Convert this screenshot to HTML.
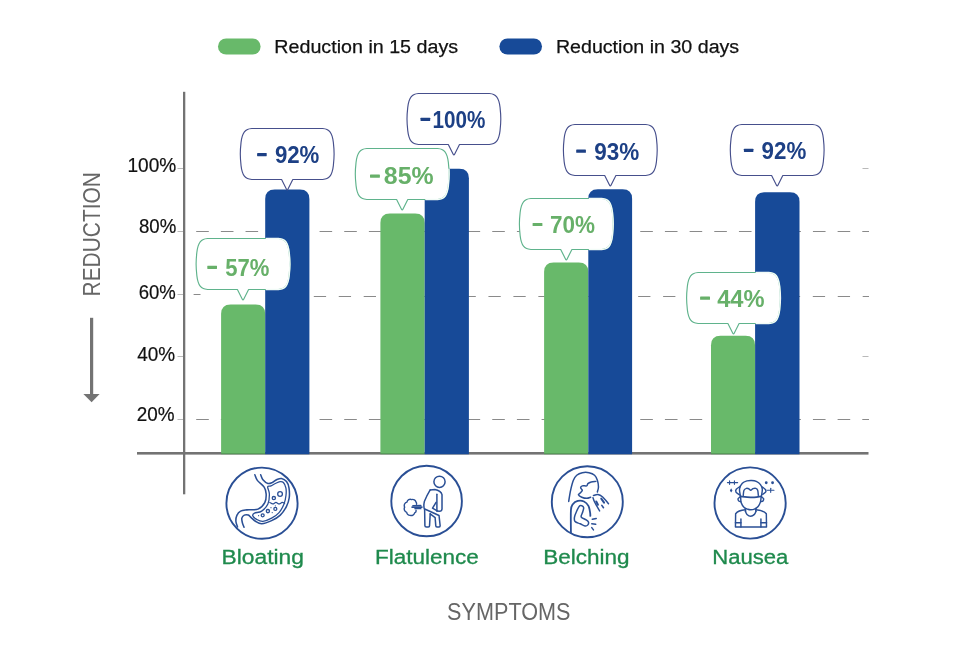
<!DOCTYPE html>
<html><head><meta charset="utf-8"><title>Symptom reduction chart</title>
<style>html,body{margin:0;padding:0;background:#fff}svg{display:block;will-change:transform}text{font-family:"Liberation Sans",sans-serif}</style>
</head><body>
<svg width="958" height="645" viewBox="0 0 958 645">
<rect width="958" height="645" fill="#ffffff"/>
<rect x="218" y="38.4" width="42.6" height="16.2" rx="8.1" fill="#68b96a"/>
<rect x="499.4" y="38.4" width="42.6" height="16.2" rx="8.1" fill="#174a98"/>
<text x="274.3" y="52.7" font-size="19.2" fill="#111" stroke="#111" stroke-width="0.25" textLength="183.8" lengthAdjust="spacingAndGlyphs">Reduction in 15 days</text>
<text x="555.9" y="52.7" font-size="19.2" fill="#111" stroke="#111" stroke-width="0.25" textLength="183.3" lengthAdjust="spacingAndGlyphs">Reduction in 30 days</text>
<text x="127.50" y="171.70" font-size="19.6" fill="#111" stroke="#111" stroke-width="0.2" textLength="48.80" lengthAdjust="spacingAndGlyphs">100%</text>
<text x="139.00" y="232.50" font-size="19.6" fill="#111" stroke="#111" stroke-width="0.2" textLength="37.30" lengthAdjust="spacingAndGlyphs">80%</text>
<text x="138.70" y="298.70" font-size="19.6" fill="#111" stroke="#111" stroke-width="0.2" textLength="37.10" lengthAdjust="spacingAndGlyphs">60%</text>
<text x="137.30" y="360.70" font-size="19.6" fill="#111" stroke="#111" stroke-width="0.2" textLength="37.90" lengthAdjust="spacingAndGlyphs">40%</text>
<text x="136.70" y="420.70" font-size="19.6" fill="#111" stroke="#111" stroke-width="0.2" textLength="37.80" lengthAdjust="spacingAndGlyphs">20%</text>
<rect x="177.5" y="168.00" width="6" height="1" fill="#b9b9b9"/>
<rect x="177.5" y="231.00" width="6" height="1" fill="#b9b9b9"/>
<rect x="177.5" y="294.00" width="6" height="1" fill="#b9b9b9"/>
<rect x="177.5" y="356.00" width="6" height="1" fill="#b9b9b9"/>
<rect x="177.5" y="419.00" width="6" height="1" fill="#b9b9b9"/>
<rect x="862.5" y="168.00" width="6" height="1" fill="#b9b9b9"/>
<rect x="862.5" y="356.00" width="6" height="1" fill="#b9b9b9"/>
<path d="M196.2,231.5 H869" stroke="#8a8a8a" stroke-width="1" stroke-dasharray="12.6 12.07" fill="none"/>
<path d="M196.2,419.5 H869" stroke="#8a8a8a" stroke-width="1" stroke-dasharray="12.6 12.07" fill="none"/>
<path d="M193.6,294.5 H200.5" stroke="#8a8a8a" stroke-width="1" fill="none"/>
<path d="M313.8,296.5 H869" stroke="#8a8a8a" stroke-width="1" stroke-dasharray="12.3 12.65" fill="none"/>
<rect x="183" y="91.8" width="2.3" height="402.5" fill="#737373"/>
<rect x="137" y="452" width="731.5" height="2.6" fill="#737373"/>
<path d="M221.10,454.20 V314.00 Q221.10,304.50 230.60,304.50 H255.70 Q265.20,304.50 265.20,314.00 V454.20 Z" fill="#68b96a"/>
<path d="M265.20,454.20 V199.10 Q265.20,189.60 274.70,189.60 H299.90 Q309.40,189.60 309.40,199.10 V454.20 Z" fill="#174a98"/>
<rect x="221.10" y="453" width="44.10" height="1.2" fill="#000" fill-opacity="0.16"/>
<path d="M380.40,454.20 V222.90 Q380.40,213.40 389.90,213.40 H415.20 Q424.70,213.40 424.70,222.90 V454.20 Z" fill="#68b96a"/>
<path d="M424.70,454.20 V178.30 Q424.70,168.80 434.20,168.80 H459.40 Q468.90,168.80 468.90,178.30 V454.20 Z" fill="#174a98"/>
<rect x="380.40" y="453" width="44.30" height="1.2" fill="#000" fill-opacity="0.16"/>
<path d="M544.10,454.20 V272.00 Q544.10,262.50 553.60,262.50 H578.80 Q588.30,262.50 588.30,272.00 V454.20 Z" fill="#68b96a"/>
<path d="M588.30,454.20 V198.80 Q588.30,189.30 597.80,189.30 H622.60 Q632.10,189.30 632.10,198.80 V454.20 Z" fill="#174a98"/>
<rect x="544.10" y="453" width="44.20" height="1.2" fill="#000" fill-opacity="0.16"/>
<path d="M711.00,454.20 V345.20 Q711.00,335.70 720.50,335.70 H745.60 Q755.10,335.70 755.10,345.20 V454.20 Z" fill="#68b96a"/>
<path d="M755.10,454.20 V201.80 Q755.10,192.30 764.60,192.30 H790.00 Q799.50,192.30 799.50,201.80 V454.20 Z" fill="#174a98"/>
<rect x="711.00" y="453" width="44.10" height="1.2" fill="#000" fill-opacity="0.16"/>
<path d="M251.80,128.50 L322.60,128.50 C324.03,128.65 325.67,128.85 326.90,129.40 C328.13,129.95 329.13,130.67 330.00,131.80 C330.87,132.93 331.54,134.43 332.10,136.20 C332.66,137.97 333.02,139.43 333.35,142.40 C333.68,145.37 334.10,150.13 334.10,154.00 C334.10,157.87 333.68,162.63 333.35,165.60 C333.02,168.57 332.66,170.03 332.10,171.80 C331.54,173.57 330.87,175.07 330.00,176.20 C329.13,177.33 328.13,178.05 326.90,178.60 C325.67,179.15 324.03,179.35 322.60,179.50 L292.80,179.50 L287.90,189.20 Q287.20,190.60 286.50,189.20 L281.60,179.50 L251.80,179.50 C250.37,179.35 248.73,179.15 247.50,178.60 C246.27,178.05 245.27,177.33 244.40,176.20 C243.53,175.07 242.86,173.57 242.30,171.80 C241.74,170.03 241.38,168.57 241.05,165.60 C240.72,162.63 240.30,157.87 240.30,154.00 C240.30,150.13 240.72,145.37 241.05,142.40 C241.38,139.43 241.74,137.97 242.30,136.20 C242.86,134.43 243.53,132.93 244.40,131.80 C245.27,130.67 246.27,129.95 247.50,129.40 C248.73,128.85 250.37,128.65 251.80,128.50Z" fill="#ffffff" stroke="#464f8c" stroke-width="1.15" stroke-linejoin="round"/>
<path d="M207.60,238.50 L278.40,238.50 C279.83,238.65 281.47,238.85 282.70,239.40 C283.93,239.95 284.93,240.67 285.80,241.80 C286.67,242.93 287.34,244.43 287.90,246.20 C288.46,247.97 288.82,249.43 289.15,252.40 C289.48,255.37 289.90,260.13 289.90,264.00 C289.90,267.87 289.48,272.63 289.15,275.60 C288.82,278.57 288.46,280.03 287.90,281.80 C287.34,283.57 286.67,285.07 285.80,286.20 C284.93,287.33 283.93,288.05 282.70,288.60 C281.47,289.15 279.83,289.35 278.40,289.50 L248.60,289.50 L243.70,299.20 Q243.00,300.60 242.30,299.20 L237.40,289.50 L207.60,289.50 C206.17,289.35 204.53,289.15 203.30,288.60 C202.07,288.05 201.07,287.33 200.20,286.20 C199.33,285.07 198.66,283.57 198.10,281.80 C197.54,280.03 197.18,278.57 196.85,275.60 C196.52,272.63 196.10,267.87 196.10,264.00 C196.10,260.13 196.52,255.37 196.85,252.40 C197.18,249.43 197.54,247.97 198.10,246.20 C198.66,244.43 199.33,242.93 200.20,241.80 C201.07,240.67 202.07,239.95 203.30,239.40 C204.53,238.85 206.17,238.65 207.60,238.50Z" fill="#ffffff" stroke="#5fb38c" stroke-width="1.15" stroke-linejoin="round"/>
<clipPath id="cb1"><rect x="265.80" y="189.60" width="44.20" height="263.40"/></clipPath>
<path d="M207.60,238.50 L278.40,238.50 C279.83,238.65 281.47,238.85 282.70,239.40 C283.93,239.95 284.93,240.67 285.80,241.80 C286.67,242.93 287.34,244.43 287.90,246.20 C288.46,247.97 288.82,249.43 289.15,252.40 C289.48,255.37 289.90,260.13 289.90,264.00 C289.90,267.87 289.48,272.63 289.15,275.60 C288.82,278.57 288.46,280.03 287.90,281.80 C287.34,283.57 286.67,285.07 285.80,286.20 C284.93,287.33 283.93,288.05 282.70,288.60 C281.47,289.15 279.83,289.35 278.40,289.50 L248.60,289.50 L243.70,299.20 Q243.00,300.60 242.30,299.20 L237.40,289.50 L207.60,289.50 C206.17,289.35 204.53,289.15 203.30,288.60 C202.07,288.05 201.07,287.33 200.20,286.20 C199.33,285.07 198.66,283.57 198.10,281.80 C197.54,280.03 197.18,278.57 196.85,275.60 C196.52,272.63 196.10,267.87 196.10,264.00 C196.10,260.13 196.52,255.37 196.85,252.40 C197.18,249.43 197.54,247.97 198.10,246.20 C198.66,244.43 199.33,242.93 200.20,241.80 C201.07,240.67 202.07,239.95 203.30,239.40 C204.53,238.85 206.17,238.65 207.60,238.50Z" fill="none" stroke="#f1fbf7" stroke-width="1.5" clip-path="url(#cb1)"/>
<path d="M418.50,93.50 L489.30,93.50 C490.73,93.65 492.37,93.85 493.60,94.40 C494.83,94.95 495.83,95.67 496.70,96.80 C497.57,97.93 498.24,99.43 498.80,101.20 C499.36,102.97 499.72,104.43 500.05,107.40 C500.38,110.37 500.80,115.13 500.80,119.00 C500.80,122.87 500.38,127.63 500.05,130.60 C499.72,133.57 499.36,135.03 498.80,136.80 C498.24,138.57 497.57,140.07 496.70,141.20 C495.83,142.33 494.83,143.05 493.60,143.60 C492.37,144.15 490.73,144.35 489.30,144.50 L459.50,144.50 L454.60,154.20 Q453.90,155.60 453.20,154.20 L448.30,144.50 L418.50,144.50 C417.07,144.35 415.43,144.15 414.20,143.60 C412.97,143.05 411.97,142.33 411.10,141.20 C410.23,140.07 409.56,138.57 409.00,136.80 C408.44,135.03 408.08,133.57 407.75,130.60 C407.42,127.63 407.00,122.87 407.00,119.00 C407.00,115.13 407.42,110.37 407.75,107.40 C408.08,104.43 408.44,102.97 409.00,101.20 C409.56,99.43 410.23,97.93 411.10,96.80 C411.97,95.67 412.97,94.95 414.20,94.40 C415.43,93.85 417.07,93.65 418.50,93.50Z" fill="#ffffff" stroke="#464f8c" stroke-width="1.15" stroke-linejoin="round"/>
<path d="M366.80,148.50 L437.60,148.50 C439.03,148.65 440.67,148.85 441.90,149.40 C443.13,149.95 444.13,150.67 445.00,151.80 C445.87,152.93 446.54,154.43 447.10,156.20 C447.66,157.97 448.02,159.43 448.35,162.40 C448.68,165.37 449.10,170.13 449.10,174.00 C449.10,177.87 448.68,182.63 448.35,185.60 C448.02,188.57 447.66,190.03 447.10,191.80 C446.54,193.57 445.87,195.07 445.00,196.20 C444.13,197.33 443.13,198.05 441.90,198.60 C440.67,199.15 439.03,199.35 437.60,199.50 L407.80,199.50 L402.90,209.20 Q402.20,210.60 401.50,209.20 L396.60,199.50 L366.80,199.50 C365.37,199.35 363.73,199.15 362.50,198.60 C361.27,198.05 360.27,197.33 359.40,196.20 C358.53,195.07 357.86,193.57 357.30,191.80 C356.74,190.03 356.38,188.57 356.05,185.60 C355.72,182.63 355.30,177.87 355.30,174.00 C355.30,170.13 355.72,165.37 356.05,162.40 C356.38,159.43 356.74,157.97 357.30,156.20 C357.86,154.43 358.53,152.93 359.40,151.80 C360.27,150.67 361.27,149.95 362.50,149.40 C363.73,148.85 365.37,148.65 366.80,148.50Z" fill="#ffffff" stroke="#5fb38c" stroke-width="1.15" stroke-linejoin="round"/>
<clipPath id="cb3"><rect x="425.30" y="168.80" width="44.20" height="284.20"/></clipPath>
<path d="M366.80,148.50 L437.60,148.50 C439.03,148.65 440.67,148.85 441.90,149.40 C443.13,149.95 444.13,150.67 445.00,151.80 C445.87,152.93 446.54,154.43 447.10,156.20 C447.66,157.97 448.02,159.43 448.35,162.40 C448.68,165.37 449.10,170.13 449.10,174.00 C449.10,177.87 448.68,182.63 448.35,185.60 C448.02,188.57 447.66,190.03 447.10,191.80 C446.54,193.57 445.87,195.07 445.00,196.20 C444.13,197.33 443.13,198.05 441.90,198.60 C440.67,199.15 439.03,199.35 437.60,199.50 L407.80,199.50 L402.90,209.20 Q402.20,210.60 401.50,209.20 L396.60,199.50 L366.80,199.50 C365.37,199.35 363.73,199.15 362.50,198.60 C361.27,198.05 360.27,197.33 359.40,196.20 C358.53,195.07 357.86,193.57 357.30,191.80 C356.74,190.03 356.38,188.57 356.05,185.60 C355.72,182.63 355.30,177.87 355.30,174.00 C355.30,170.13 355.72,165.37 356.05,162.40 C356.38,159.43 356.74,157.97 357.30,156.20 C357.86,154.43 358.53,152.93 359.40,151.80 C360.27,150.67 361.27,149.95 362.50,149.40 C363.73,148.85 365.37,148.65 366.80,148.50Z" fill="none" stroke="#f1fbf7" stroke-width="1.5" clip-path="url(#cb3)"/>
<path d="M574.90,124.50 L645.70,124.50 C647.13,124.65 648.77,124.85 650.00,125.40 C651.23,125.95 652.23,126.67 653.10,127.80 C653.97,128.93 654.64,130.43 655.20,132.20 C655.76,133.97 656.12,135.43 656.45,138.40 C656.78,141.37 657.20,146.13 657.20,150.00 C657.20,153.87 656.78,158.63 656.45,161.60 C656.12,164.57 655.76,166.03 655.20,167.80 C654.64,169.57 653.97,171.07 653.10,172.20 C652.23,173.33 651.23,174.05 650.00,174.60 C648.77,175.15 647.13,175.35 645.70,175.50 L615.90,175.50 L611.00,185.20 Q610.30,186.60 609.60,185.20 L604.70,175.50 L574.90,175.50 C573.47,175.35 571.83,175.15 570.60,174.60 C569.37,174.05 568.37,173.33 567.50,172.20 C566.63,171.07 565.96,169.57 565.40,167.80 C564.84,166.03 564.48,164.57 564.15,161.60 C563.82,158.63 563.40,153.87 563.40,150.00 C563.40,146.13 563.82,141.37 564.15,138.40 C564.48,135.43 564.84,133.97 565.40,132.20 C565.96,130.43 566.63,128.93 567.50,127.80 C568.37,126.67 569.37,125.95 570.60,125.40 C571.83,124.85 573.47,124.65 574.90,124.50Z" fill="#ffffff" stroke="#464f8c" stroke-width="1.15" stroke-linejoin="round"/>
<path d="M530.90,198.50 L601.70,198.50 C603.13,198.65 604.77,198.85 606.00,199.40 C607.23,199.95 608.23,200.67 609.10,201.80 C609.97,202.93 610.64,204.43 611.20,206.20 C611.76,207.97 612.12,209.43 612.45,212.40 C612.78,215.37 613.20,220.13 613.20,224.00 C613.20,227.87 612.78,232.63 612.45,235.60 C612.12,238.57 611.76,240.03 611.20,241.80 C610.64,243.57 609.97,245.07 609.10,246.20 C608.23,247.33 607.23,248.05 606.00,248.60 C604.77,249.15 603.13,249.35 601.70,249.50 L571.90,249.50 L567.00,259.20 Q566.30,260.60 565.60,259.20 L560.70,249.50 L530.90,249.50 C529.47,249.35 527.83,249.15 526.60,248.60 C525.37,248.05 524.37,247.33 523.50,246.20 C522.63,245.07 521.96,243.57 521.40,241.80 C520.84,240.03 520.48,238.57 520.15,235.60 C519.82,232.63 519.40,227.87 519.40,224.00 C519.40,220.13 519.82,215.37 520.15,212.40 C520.48,209.43 520.84,207.97 521.40,206.20 C521.96,204.43 522.63,202.93 523.50,201.80 C524.37,200.67 525.37,199.95 526.60,199.40 C527.83,198.85 529.47,198.65 530.90,198.50Z" fill="#ffffff" stroke="#5fb38c" stroke-width="1.15" stroke-linejoin="round"/>
<clipPath id="cb5"><rect x="588.90" y="189.30" width="43.80" height="263.70"/></clipPath>
<path d="M530.90,198.50 L601.70,198.50 C603.13,198.65 604.77,198.85 606.00,199.40 C607.23,199.95 608.23,200.67 609.10,201.80 C609.97,202.93 610.64,204.43 611.20,206.20 C611.76,207.97 612.12,209.43 612.45,212.40 C612.78,215.37 613.20,220.13 613.20,224.00 C613.20,227.87 612.78,232.63 612.45,235.60 C612.12,238.57 611.76,240.03 611.20,241.80 C610.64,243.57 609.97,245.07 609.10,246.20 C608.23,247.33 607.23,248.05 606.00,248.60 C604.77,249.15 603.13,249.35 601.70,249.50 L571.90,249.50 L567.00,259.20 Q566.30,260.60 565.60,259.20 L560.70,249.50 L530.90,249.50 C529.47,249.35 527.83,249.15 526.60,248.60 C525.37,248.05 524.37,247.33 523.50,246.20 C522.63,245.07 521.96,243.57 521.40,241.80 C520.84,240.03 520.48,238.57 520.15,235.60 C519.82,232.63 519.40,227.87 519.40,224.00 C519.40,220.13 519.82,215.37 520.15,212.40 C520.48,209.43 520.84,207.97 521.40,206.20 C521.96,204.43 522.63,202.93 523.50,201.80 C524.37,200.67 525.37,199.95 526.60,199.40 C527.83,198.85 529.47,198.65 530.90,198.50Z" fill="none" stroke="#f1fbf7" stroke-width="1.5" clip-path="url(#cb5)"/>
<path d="M741.80,124.50 L812.60,124.50 C814.03,124.65 815.67,124.85 816.90,125.40 C818.13,125.95 819.13,126.67 820.00,127.80 C820.87,128.93 821.54,130.43 822.10,132.20 C822.66,133.97 823.02,135.43 823.35,138.40 C823.68,141.37 824.10,146.13 824.10,150.00 C824.10,153.87 823.68,158.63 823.35,161.60 C823.02,164.57 822.66,166.03 822.10,167.80 C821.54,169.57 820.87,171.07 820.00,172.20 C819.13,173.33 818.13,174.05 816.90,174.60 C815.67,175.15 814.03,175.35 812.60,175.50 L782.80,175.50 L777.90,185.20 Q777.20,186.60 776.50,185.20 L771.60,175.50 L741.80,175.50 C740.37,175.35 738.73,175.15 737.50,174.60 C736.27,174.05 735.27,173.33 734.40,172.20 C733.53,171.07 732.86,169.57 732.30,167.80 C731.74,166.03 731.38,164.57 731.05,161.60 C730.72,158.63 730.30,153.87 730.30,150.00 C730.30,146.13 730.72,141.37 731.05,138.40 C731.38,135.43 731.74,133.97 732.30,132.20 C732.86,130.43 733.53,128.93 734.40,127.80 C735.27,126.67 736.27,125.95 737.50,125.40 C738.73,124.85 740.37,124.65 741.80,124.50Z" fill="#ffffff" stroke="#464f8c" stroke-width="1.15" stroke-linejoin="round"/>
<path d="M698.10,272.50 L768.90,272.50 C770.33,272.65 771.97,272.85 773.20,273.40 C774.43,273.95 775.43,274.67 776.30,275.80 C777.17,276.93 777.84,278.43 778.40,280.20 C778.96,281.97 779.32,283.43 779.65,286.40 C779.98,289.37 780.40,294.13 780.40,298.00 C780.40,301.87 779.98,306.63 779.65,309.60 C779.32,312.57 778.96,314.03 778.40,315.80 C777.84,317.57 777.17,319.07 776.30,320.20 C775.43,321.33 774.43,322.05 773.20,322.60 C771.97,323.15 770.33,323.35 768.90,323.50 L739.10,323.50 L734.20,333.20 Q733.50,334.60 732.80,333.20 L727.90,323.50 L698.10,323.50 C696.67,323.35 695.03,323.15 693.80,322.60 C692.57,322.05 691.57,321.33 690.70,320.20 C689.83,319.07 689.16,317.57 688.60,315.80 C688.04,314.03 687.68,312.57 687.35,309.60 C687.02,306.63 686.60,301.87 686.60,298.00 C686.60,294.13 687.02,289.37 687.35,286.40 C687.68,283.43 688.04,281.97 688.60,280.20 C689.16,278.43 689.83,276.93 690.70,275.80 C691.57,274.67 692.57,273.95 693.80,273.40 C695.03,272.85 696.67,272.65 698.10,272.50Z" fill="#ffffff" stroke="#5fb38c" stroke-width="1.15" stroke-linejoin="round"/>
<clipPath id="cb7"><rect x="755.70" y="192.30" width="44.40" height="260.70"/></clipPath>
<path d="M698.10,272.50 L768.90,272.50 C770.33,272.65 771.97,272.85 773.20,273.40 C774.43,273.95 775.43,274.67 776.30,275.80 C777.17,276.93 777.84,278.43 778.40,280.20 C778.96,281.97 779.32,283.43 779.65,286.40 C779.98,289.37 780.40,294.13 780.40,298.00 C780.40,301.87 779.98,306.63 779.65,309.60 C779.32,312.57 778.96,314.03 778.40,315.80 C777.84,317.57 777.17,319.07 776.30,320.20 C775.43,321.33 774.43,322.05 773.20,322.60 C771.97,323.15 770.33,323.35 768.90,323.50 L739.10,323.50 L734.20,333.20 Q733.50,334.60 732.80,333.20 L727.90,323.50 L698.10,323.50 C696.67,323.35 695.03,323.15 693.80,322.60 C692.57,322.05 691.57,321.33 690.70,320.20 C689.83,319.07 689.16,317.57 688.60,315.80 C688.04,314.03 687.68,312.57 687.35,309.60 C687.02,306.63 686.60,301.87 686.60,298.00 C686.60,294.13 687.02,289.37 687.35,286.40 C687.68,283.43 688.04,281.97 688.60,280.20 C689.16,278.43 689.83,276.93 690.70,275.80 C691.57,274.67 692.57,273.95 693.80,273.40 C695.03,272.85 696.67,272.65 698.10,272.50Z" fill="none" stroke="#f1fbf7" stroke-width="1.5" clip-path="url(#cb7)"/>
<rect x="257.10" y="153.00" width="9.60" height="3.2" rx="0.4" fill="#1d4085"/>
<text x="274.90" y="162.90" font-size="24" font-weight="bold" fill="#1d4085" textLength="44.50" lengthAdjust="spacingAndGlyphs">92%</text>
<rect x="207.30" y="265.70" width="9.70" height="3.2" rx="0.4" fill="#67b069"/>
<text x="225.20" y="275.60" font-size="24" font-weight="bold" fill="#67b069" textLength="44.20" lengthAdjust="spacingAndGlyphs">57%</text>
<rect x="420.50" y="117.80" width="9.70" height="3.2" rx="0.4" fill="#1d4085"/>
<text x="432.50" y="127.70" font-size="24" font-weight="bold" fill="#1d4085" textLength="52.90" lengthAdjust="spacingAndGlyphs">100%</text>
<rect x="370.00" y="174.50" width="9.90" height="3.2" rx="0.4" fill="#67b069"/>
<text x="383.80" y="184.40" font-size="24" font-weight="bold" fill="#67b069" textLength="49.80" lengthAdjust="spacingAndGlyphs">85%</text>
<rect x="576.20" y="149.60" width="9.70" height="3.2" rx="0.4" fill="#1d4085"/>
<text x="594.30" y="159.50" font-size="24" font-weight="bold" fill="#1d4085" textLength="45.00" lengthAdjust="spacingAndGlyphs">93%</text>
<rect x="532.60" y="222.90" width="9.80" height="3.2" rx="0.4" fill="#67b069"/>
<text x="549.90" y="232.80" font-size="24" font-weight="bold" fill="#67b069" textLength="45.00" lengthAdjust="spacingAndGlyphs">70%</text>
<rect x="743.90" y="148.80" width="9.50" height="3.2" rx="0.4" fill="#1d4085"/>
<text x="761.60" y="158.70" font-size="24" font-weight="bold" fill="#1d4085" textLength="44.70" lengthAdjust="spacingAndGlyphs">92%</text>
<rect x="700.10" y="296.60" width="9.90" height="3.2" rx="0.4" fill="#67b069"/>
<text x="717.20" y="306.50" font-size="24" font-weight="bold" fill="#67b069" textLength="47.40" lengthAdjust="spacingAndGlyphs">44%</text>
<text transform="translate(100.2,296.4) rotate(-90)" font-size="23" fill="#666666" textLength="124.2" lengthAdjust="spacingAndGlyphs">REDUCTION</text>
<rect x="90" y="317.8" width="3.2" height="77.5" fill="#737373"/>
<path d="M83.4,394 H99.6 L91.6,402.2 Z" fill="#737373"/>
<text x="447.1" y="619.7" font-size="23" fill="#666666" textLength="123.4" lengthAdjust="spacingAndGlyphs">SYMPTOMS</text>
<text x="221.60" y="564.4" font-size="19.4" fill="#1f8a4d" stroke="#1f8a4d" stroke-width="0.3" textLength="82.30" lengthAdjust="spacingAndGlyphs">Bloating</text>
<text x="375.00" y="564.4" font-size="19.4" fill="#1f8a4d" stroke="#1f8a4d" stroke-width="0.3" textLength="103.80" lengthAdjust="spacingAndGlyphs">Flatulence</text>
<text x="543.20" y="564.4" font-size="19.4" fill="#1f8a4d" stroke="#1f8a4d" stroke-width="0.3" textLength="86.30" lengthAdjust="spacingAndGlyphs">Belching</text>
<text x="712.20" y="564.4" font-size="19.4" fill="#1f8a4d" stroke="#1f8a4d" stroke-width="0.3" textLength="76.10" lengthAdjust="spacingAndGlyphs">Nausea</text>
<circle cx="262.00" cy="503.20" r="35.60" fill="none" stroke="#2a4f95" stroke-width="1.9"/>
<circle cx="426.60" cy="501.00" r="35.30" fill="none" stroke="#2a4f95" stroke-width="1.9"/>
<circle cx="587.30" cy="501.80" r="35.50" fill="none" stroke="#2a4f95" stroke-width="1.9"/>
<circle cx="750.10" cy="503.00" r="35.60" fill="none" stroke="#2a4f95" stroke-width="1.9"/>
<g fill="none" stroke="#2a4f95" stroke-width="1.55" stroke-linecap="round" stroke-linejoin="round">
<path d="M254.87,474.78 C255.28,475.71 255.80,478.30 257.35,480.36 C258.90,482.43 262.70,484.91 264.17,487.19 C265.64,489.46 266.05,491.42 266.16,494.01 C266.26,496.59 266.16,500.17 264.79,502.69 C263.43,505.21 260.97,507.94 257.97,509.14 C254.97,510.34 249.70,509.55 246.81,509.88 C243.91,510.21 242.26,510.21 240.60,511.12 C238.95,512.03 237.67,513.65 236.88,515.34 C236.10,517.04 235.79,519.37 235.89,521.29 C235.99,523.22 237.24,525.95 237.50,526.88"/>
<path d="M260.70,474.78 C261.07,475.61 261.73,478.30 262.93,479.74 C264.13,481.19 266.34,482.99 267.89,483.47 C269.44,483.94 270.79,483.22 272.23,482.60 C273.68,481.98 275.02,480.43 276.57,479.74 C278.12,479.06 279.88,478.19 281.53,478.50 C283.19,478.81 285.26,480.05 286.50,481.60 C287.74,483.16 288.52,485.12 288.98,487.81 C289.43,490.49 289.64,494.63 289.22,497.73 C288.81,500.83 287.98,503.52 286.50,506.41 C285.01,509.30 282.78,512.72 280.29,515.09 C277.81,517.47 274.71,519.23 271.61,520.67 C268.51,522.12 264.38,523.67 261.69,523.78 C259.00,523.88 257.25,522.33 255.49,521.29 C253.73,520.26 252.35,518.61 251.15,517.57 C249.95,516.54 249.43,515.51 248.29,515.09 C247.16,514.68 245.40,514.58 244.33,515.09 C243.25,515.61 242.16,516.85 241.84,518.19 C241.53,519.54 242.09,521.65 242.47,523.16 C242.84,524.66 243.81,526.57 244.08,527.25"/>
<path d="M267.64,486.81 C267.37,488.16 269.34,491.16 269.38,494.01 C269.42,496.86 269.17,501.08 267.89,503.93 C266.61,506.78 263.92,509.59 261.69,511.12 C259.46,512.65 255.98,512.34 254.50,513.11 C253.01,513.87 252.39,514.66 252.76,515.71 C253.13,516.77 255.03,518.50 256.73,519.43 C258.42,520.36 260.45,521.50 262.93,521.29 C265.41,521.09 268.93,519.64 271.61,518.19 C274.30,516.75 276.99,514.99 279.05,512.61 C281.12,510.24 282.86,506.82 284.02,503.93 C285.17,501.04 285.69,497.94 286.00,495.25 C286.31,492.56 286.31,489.94 285.88,487.81 C285.44,485.68 284.37,483.51 283.40,482.47 C282.42,481.44 281.39,481.44 280.05,481.60 C278.70,481.77 276.84,482.74 275.33,483.47 C273.82,484.19 272.27,485.39 270.99,485.95 C269.71,486.50 267.91,485.47 267.64,486.81Z" stroke-width="1.3"/>
<path d="M269.75,502.44 C270.27,502.69 271.82,503.93 272.85,503.93 C273.89,503.93 274.92,502.44 275.95,502.44 C276.99,502.44 278.02,503.93 279.05,503.93 C280.09,503.93 281.22,502.55 282.16,502.44 C283.09,502.34 284.22,503.17 284.64,503.31" stroke-width="1.2"/>
<circle cx="280.05" cy="494.01" r="2.36" stroke-width="1.3"/>
<circle cx="273.84" cy="498.10" r="1.61" stroke-width="1.3"/>
<circle cx="275.33" cy="508.89" r="1.49" stroke-width="1.3"/>
<circle cx="267.89" cy="511.12" r="1.61" stroke-width="1.3"/>
<circle cx="262.68" cy="515.34" r="1.49" stroke-width="1.3"/>
<circle cx="270.99" cy="507.65" r="0.6" fill="#2a4f95" stroke="none"/>
<circle cx="272.23" cy="512.61" r="0.6" fill="#2a4f95" stroke="none"/>
<circle cx="258.59" cy="515.71" r="0.6" fill="#2a4f95" stroke="none"/>
<circle cx="275.33" cy="505.79" r="0.6" fill="#2a4f95" stroke="none"/>
</g>
<g fill="none" stroke="#2a4f95" stroke-width="1.50" stroke-linecap="round" stroke-linejoin="round">
<circle cx="439.50" cy="481.80" r="5.6"/>
<path d="M430.20,489.98 L434.85,489.52 Q440.89,490.63 442.01,494.63 L442.01,509.03 Q441.82,511.36 439.50,511.36 L437.17,510.89"/>
<path d="M436.90,494.35 L436.90,510.89"/>
<path d="M430.20,489.98 Q426.49,496.02 424.35,501.60 Q423.23,506.25 424.63,509.78 L424.91,525.76 Q424.91,526.88 426.49,526.88 L428.35,526.88 Q429.55,526.88 429.55,525.76 L430.20,513.87"/>
<path d="M424.72,509.03 L439.03,515.54 L440.15,525.76 Q440.15,526.88 439.03,526.88 L436.99,526.88 Q435.78,526.88 435.78,525.76 L435.13,517.58 L430.20,513.87"/>
<path d="M436.06,502.34 L432.53,508.10 L437.17,510.89"/>
<path d="M416.54,504.20 A2.60,2.60 0 0 0 415.99,502.06 A3.40,3.40 0 0 0 411.62,499.55 A3.40,3.40 0 0 0 406.97,502.06 A3.60,3.60 0 0 0 404.65,507.17 A3.60,3.60 0 0 0 406.69,512.29 A3.20,3.20 0 0 0 410.22,515.35 A3.40,3.40 0 0 0 414.68,512.94 A2.40,2.40 0 0 0 415.99,510.15" stroke-width="1.4"/>
<path d="M412.83,505.69 L420.91,505.50" stroke-width="1.3"/>
<path d="M412.08,507.17 L421.93,507.17" stroke-width="1.6"/>
<path d="M414.87,508.66 L420.91,508.66" stroke-width="1.3"/>
</g>
<g fill="none" stroke="#2a4f95" stroke-width="1.50" stroke-linecap="round" stroke-linejoin="round">
<path d="M568.70,501.46 C569.01,499.60 569.81,493.84 570.59,490.30 C571.38,486.77 572.36,482.78 573.38,480.27 C574.40,477.76 575.24,476.51 576.73,475.25 C578.21,473.98 580.26,473.11 582.30,472.68 C584.35,472.26 586.95,472.26 589.00,472.68 C591.04,473.11 593.18,473.98 594.57,475.25 C595.97,476.51 596.71,478.32 597.36,480.27 C598.01,482.22 598.47,485.01 598.47,486.96 C598.47,488.91 597.55,491.14 597.36,491.98"/>
<path d="M595.91,481.38 C595.13,481.48 592.56,481.57 591.23,481.94 C589.89,482.31 588.62,482.96 587.88,483.61 C587.14,484.26 587.69,485.47 586.76,485.84 C585.84,486.21 583.33,485.51 582.30,485.84 C581.28,486.18 580.63,487.11 580.63,487.85 C580.63,488.59 582.40,489.43 582.30,490.30 C582.21,491.18 580.72,492.35 580.07,493.09 C579.42,493.84 578.12,494.08 578.40,494.76 C578.68,495.45 580.35,496.62 581.75,497.22 C583.14,497.81 585.28,498.33 586.76,498.33 C588.25,498.33 590.02,497.40 590.67,497.22"/>
<path d="M593.46,495.43 C594.20,495.29 596.43,494.32 597.92,494.54 C599.40,494.76 600.61,495.25 602.38,496.77 C604.14,498.30 607.49,502.53 608.51,503.69"/>
<path d="M593.01,497.66 C593.27,498.39 593.47,499.80 594.57,502.01 C595.67,504.23 598.75,509.45 599.59,510.94"/>
<path d="M596.24,501.46 L597.92,504.80" stroke-width="2"/>
<path d="M601.26,498.67 L604.05,502.57" stroke-width="2"/>
<path d="M601.82,505.36 L603.49,507.70" stroke-width="1.6"/>
<path d="M570.93,532.68 C570.93,528.96 570.61,515.12 570.93,510.38 C571.24,505.64 571.67,505.82 572.82,504.24 C573.98,502.66 575.98,501.36 577.84,500.90 C579.70,500.43 582.21,500.62 583.98,501.46 C585.74,502.29 587.42,504.06 588.44,505.92 C589.46,507.78 589.79,510.94 590.11,512.61 C590.43,514.28 590.30,515.40 590.33,515.95" stroke-width="1.8"/>
<path d="M579.52,505.92 C578.68,506.79 577.56,509.08 576.73,510.94 C575.89,512.79 574.78,515.30 574.50,517.07 C574.22,518.83 574.13,520.41 575.06,521.53 C575.98,522.64 578.40,523.02 580.07,523.76 C581.75,524.50 583.79,525.80 585.09,525.99 C586.39,526.18 587.32,525.53 587.88,524.88 C588.44,524.22 588.72,522.92 588.44,522.09 C588.16,521.25 587.32,520.60 586.21,519.86 C585.09,519.11 582.58,518.28 581.75,517.63 C580.91,516.98 581.00,516.98 581.19,515.95 C581.37,514.93 582.45,512.89 582.86,511.49 C583.27,510.10 583.83,508.56 583.64,507.59 C583.46,506.62 582.43,505.97 581.75,505.69 C581.06,505.41 580.35,505.04 579.52,505.92Z"/>
<path d="M592.34,519.30 L596.24,518.41"/>
<path d="M591.78,523.76 L595.69,524.32"/>
<path d="M591.78,527.66 L593.46,529.89"/>
</g>
<g fill="none" stroke="#2a4f95" stroke-width="1.45" stroke-linecap="round" stroke-linejoin="round">
<path d="M740.47,496.26 C740.31,495.02 739.22,490.98 739.53,488.81 C739.84,486.64 741.09,484.55 742.33,483.23 C743.57,481.91 745.43,481.37 746.98,480.91 C748.53,480.44 750.08,480.36 751.63,480.44 C753.18,480.52 754.81,480.67 756.28,481.37 C757.75,482.07 759.46,483.31 760.47,484.63 C761.47,485.95 762.17,487.34 762.33,489.28 C762.48,491.22 761.55,495.09 761.40,496.26"/>
<path d="M743.26,495.33 C743.38,494.47 743.46,491.37 744.00,490.21 C744.54,489.05 745.71,488.58 746.51,488.35 C747.32,488.12 748.14,488.50 748.84,488.81 C749.53,489.12 750.00,490.24 750.70,490.21 C751.40,490.18 752.17,488.94 753.02,488.63 C753.88,488.32 755.04,488.09 755.81,488.35 C756.59,488.61 757.26,489.05 757.67,490.21 C758.09,491.37 758.22,494.47 758.33,495.33"/>
<path d="M740.47,496.44 C742.17,496.61 747.21,497.50 750.70,497.47 C754.19,497.43 759.61,496.46 761.40,496.26" stroke-width="1.7"/>
<path d="M740.65,496.72 C740.74,497.73 740.62,500.98 741.21,502.77 C741.80,504.55 743.07,506.33 744.19,507.42 C745.30,508.50 746.82,508.89 747.91,509.28 C748.99,509.67 749.61,509.78 750.70,509.74 C751.78,509.71 753.18,509.64 754.42,509.09 C755.66,508.55 757.13,507.70 758.14,506.49 C759.15,505.28 759.97,503.47 760.47,501.84 C760.96,500.21 761.01,497.57 761.12,496.72"/>
<path d="M740.00,497.00 C739.69,497.26 738.37,497.93 738.14,498.58 C737.91,499.23 738.19,500.40 738.60,500.91 C739.02,501.42 740.31,501.53 740.65,501.65"/>
<path d="M761.67,497.00 C761.98,497.26 763.32,497.93 763.53,498.58 C763.75,499.23 763.41,500.40 762.98,500.91 C762.54,501.42 761.27,501.53 760.93,501.65"/>
<path d="M740.00,486.49 C739.38,486.95 736.95,488.35 736.28,489.28 C735.61,490.21 735.46,491.14 736.00,492.07 C736.54,493.00 738.95,494.40 739.53,494.86"/>
<path d="M762.33,486.95 C762.87,487.42 765.04,488.89 765.58,489.74 C766.12,490.60 766.05,491.33 765.58,492.07 C765.12,492.81 763.26,493.85 762.79,494.21"/>
<path d="M745.58,508.35 L745.58,511.14"/>
<path d="M755.81,508.35 L755.81,511.14"/>
<path d="M745.30,511.14 C745.58,511.68 746.08,513.54 746.98,514.40 C747.88,515.25 749.46,516.26 750.70,516.26 C751.94,516.26 753.52,515.25 754.42,514.40 C755.32,513.54 755.81,511.68 756.09,511.14"/>
<path d="M745.30,509.84 Q738.23,510.40 735.63,513.74 L735.44,526.95 L766.51,526.95 L766.33,513.74 Q763.72,510.40 756.09,509.84"/>
<path d="M740.93,519.05 L740.93,526.95"/>
<path d="M760.93,519.05 L760.93,526.95"/>
<path d="M735.44,522.77 L740.93,522.77"/>
<path d="M760.93,522.77 L766.51,522.77"/>
<path d="M727.44,482.58 L737.67,482.58" stroke-width="1.1"/>
<path d="M729.58,480.91 L729.58,484.35" stroke-width="1.1"/>
<path d="M734.42,480.91 L734.42,484.35" stroke-width="1.1"/>
<path d="M767.44,490.21 L773.95,490.21" stroke-width="1.1"/>
<path d="M770.70,488.35 L770.70,492.35" stroke-width="1.1"/>
<circle cx="766.23" cy="482.77" r="1.4" fill="#2a4f95" stroke="none"/>
<circle cx="772.56" cy="482.77" r="1.4" fill="#2a4f95" stroke="none"/>
<path d="M731.16,488.30 l1.3,2.1 l-1.3,2.1 l-1.3,-2.1 Z" fill="#2a4f95" stroke="none"/>
</g>
</svg>
</body></html>
